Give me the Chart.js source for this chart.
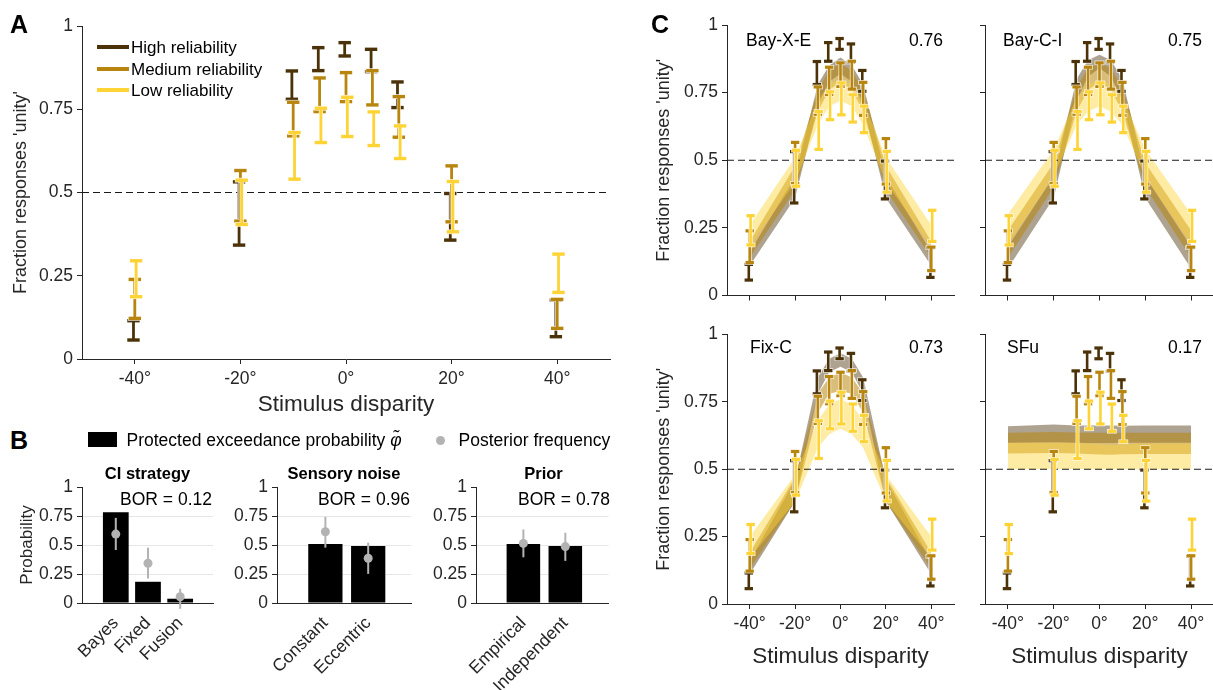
<!DOCTYPE html>
<html>
<head>
<meta charset="utf-8">
<script src="https://cdn.jsdelivr.net/npm/chart.js@4.4.1/dist/chart.umd.min.js"></script>
<style>
  html, body { margin: 0; padding: 0; background: #fff; overflow: hidden; }
  body { width: 1213px; height: 690px; position: relative; font-family: "Liberation Sans", Arial, sans-serif; color: #000; }
  canvas { position: absolute; }
  .t { position: absolute; line-height: 1; white-space: nowrap; }
  .sw { position: absolute; }
</style>
</head>
<body>
<script>
// ---- data ----
const disparities = [-40, -20, -10, -5, 0, 5, 10, 20, 40];
const xTickValues = [-40, -20, 0, 20, 40];
const yTickValues = [0, 0.25, 0.5, 0.75, 1];
const chanceLevel = 0.5;
const reliabilityLabels = ['High reliability', 'Medium reliability', 'Low reliability'];

// observed fraction 'unity' responses (error bar ends)
const highLo = [0.057, 0.342, 0.780, 0.866, 0.910, 0.863, 0.755, 0.357, 0.067];
const highHi = [0.115, 0.532, 0.865, 0.935, 0.950, 0.930, 0.832, 0.497, 0.177];
const medLo  = [0.122, 0.414, 0.670, 0.743, 0.773, 0.763, 0.666, 0.412, 0.092];
const medHi  = [0.239, 0.566, 0.771, 0.844, 0.860, 0.866, 0.788, 0.580, 0.179];
const lowLo  = [0.187, 0.404, 0.540, 0.650, 0.668, 0.641, 0.602, 0.382, 0.200];
const lowHi  = [0.295, 0.537, 0.680, 0.753, 0.786, 0.742, 0.700, 0.533, 0.315];

// model predictions (panel C), shaded bands
const bxeHighLo = [0.11, 0.36, 0.70, 0.79, 0.82, 0.79, 0.70, 0.36, 0.11];
const bxeHighHi = [0.16, 0.44, 0.78, 0.85, 0.88, 0.85, 0.78, 0.44, 0.16];
const bxeMedLo  = [0.14, 0.39, 0.68, 0.76, 0.79, 0.76, 0.68, 0.39, 0.14];
const bxeMedHi  = [0.20, 0.48, 0.76, 0.83, 0.86, 0.83, 0.76, 0.48, 0.20];
const bxeLowLo  = [0.18, 0.42, 0.63, 0.70, 0.72, 0.70, 0.63, 0.42, 0.18];
const bxeLowHi  = [0.26, 0.51, 0.72, 0.78, 0.80, 0.78, 0.72, 0.51, 0.26];

const bciHighLo = [0.10, 0.36, 0.72, 0.81, 0.84, 0.81, 0.72, 0.36, 0.10];
const bciHighHi = [0.18, 0.44, 0.80, 0.87, 0.89, 0.87, 0.80, 0.44, 0.18];
const bciMedLo  = [0.14, 0.40, 0.68, 0.76, 0.79, 0.76, 0.68, 0.40, 0.14];
const bciMedHi  = [0.24, 0.49, 0.77, 0.84, 0.86, 0.84, 0.77, 0.49, 0.24];
const bciLowLo  = [0.19, 0.44, 0.63, 0.68, 0.70, 0.68, 0.63, 0.44, 0.19];
const bciLowHi  = [0.30, 0.54, 0.73, 0.78, 0.80, 0.78, 0.73, 0.54, 0.30];

const fixHighLo = [0.11, 0.38, 0.78, 0.86, 0.88, 0.86, 0.78, 0.38, 0.11];
const fixHighHi = [0.16, 0.46, 0.84, 0.91, 0.93, 0.91, 0.84, 0.46, 0.16];
const fixMedLo  = [0.13, 0.38, 0.71, 0.78, 0.79, 0.78, 0.71, 0.38, 0.13];
const fixMedHi  = [0.19, 0.47, 0.78, 0.84, 0.86, 0.84, 0.78, 0.47, 0.19];
const fixLowLo  = [0.17, 0.38, 0.58, 0.63, 0.65, 0.63, 0.58, 0.38, 0.17];
const fixLowHi  = [0.25, 0.48, 0.68, 0.74, 0.76, 0.74, 0.68, 0.48, 0.25];

const sfuHighLo = [0.598, 0.600, 0.598, 0.597, 0.597, 0.597, 0.598, 0.598, 0.598];
const sfuHighHi = [0.660, 0.666, 0.662, 0.662, 0.662, 0.662, 0.661, 0.662, 0.662];
const sfuMedLo  = [0.558, 0.560, 0.558, 0.557, 0.555, 0.554, 0.556, 0.557, 0.557];
const sfuMedHi  = [0.635, 0.638, 0.636, 0.635, 0.635, 0.635, 0.635, 0.635, 0.635];
const sfuLowLo  = [0.500, 0.501, 0.501, 0.500, 0.500, 0.500, 0.500, 0.500, 0.500];
const sfuLowHi  = [0.597, 0.598, 0.597, 0.596, 0.593, 0.590, 0.592, 0.595, 0.596];

const modelNames  = ['Bay-X-E', 'Bay-C-I', 'Fix-C', 'SFu'];
const modelScores = ['0.76', '0.75', '0.73', '0.17'];

// panel B: protected exceedance probability (bars) and posterior frequency (dots)
const ciLabels = ['Bayes', 'Fixed', 'Fusion'];
const ciPxp = [0.783, 0.183, 0.037];
const ciFreq = [0.594, 0.343, 0.054];
const ciFreqLo = [0.457, 0.211, -0.05];
const ciFreqHi = [0.734, 0.477, 0.123];
const ciBor = 0.12;

const noiseLabels = ['Constant', 'Eccentric'];
const noisePxp = [0.509, 0.491];
const noiseFreq = [0.614, 0.386];
const noiseFreqLo = [0.477, 0.251];
const noiseFreqHi = [0.743, 0.520];
const noiseBor = 0.96;

const priorLabels = ['Empirical', 'Independent'];
const priorPxp = [0.509, 0.491];
const priorFreq = [0.514, 0.486];
const priorFreqLo = [0.394, 0.363];
const priorFreqHi = [0.634, 0.606];
const priorBor = 0.78;

// ---- styles ----
const relColors = ['#4b3208', '#b8860f', '#fdd335'];
const bandColors = ['rgba(75,50,8,0.45)', 'rgba(184,134,15,0.55)', 'rgba(253,211,53,0.45)'];
const freqColor = '#b3b3b3';
const axisColor = '#262626';

Chart.defaults.font.family = '"Liberation Sans", Arial, sans-serif';
Chart.defaults.font.size = 17.5;
Chart.defaults.color = '#262626';

// ---- helpers ----
function place(box, pad) {
  const c = document.createElement('canvas');
  const w = box.r - box.l + pad.l + pad.r, h = box.b - box.t + pad.t + pad.b;
  c.width = w; c.height = h;
  c.style.left = (box.l - pad.l) + 'px';
  c.style.top = (box.t - pad.t) + 'px';
  c.style.width = w + 'px';
  c.style.height = h + 'px';
  document.body.appendChild(c);
  return c;
}

function label(html, x, y, size, opt) {
  opt = opt || {};
  const d = document.createElement('div');
  d.className = 't';
  d.innerHTML = html;
  d.style.left = x + 'px';
  d.style.top = y + 'px';
  d.style.fontSize = size + 'px';
  if (opt.bold) d.style.fontWeight = 'bold';
  const tx = opt.align === 'right' ? '-100%' : opt.align === 'center' ? '-50%' : '0';
  d.style.transform = 'translate(' + tx + ', -50%)';
  document.body.appendChild(d);
}

function swatch(x, y, w, h, color, round) {
  const d = document.createElement('div');
  d.className = 'sw';
  d.style.left = x + 'px'; d.style.top = y + 'px';
  d.style.width = w + 'px'; d.style.height = h + 'px';
  d.style.background = color;
  if (round) d.style.borderRadius = '50%';
  document.body.appendChild(d);
}

const pts = (xs, ys) => xs.map((x, i) => ({x: x, y: ys[i]}));

function errorBars(sets) {
  return {
    id: 'errorBars',
    afterDatasetsDraw(chart) {
      const {ctx, scales: {x, y}} = chart;
      ctx.save();
      ctx.lineCap = 'butt';
      sets.forEach(s => {
        const passes = s.halo ? [['rgba(255,255,255,0.85)', 1.4], [s.color, 0]] : [[s.color, 0]];
        passes.forEach(([col, extra]) => {
          ctx.strokeStyle = col;
          s.xs.forEach((xv, i) => {
            const px = x.getPixelForValue(xv + s.shift);
            const pLo = y.getPixelForValue(s.lo[i]);
            const pHi = y.getPixelForValue(s.hi[i]);
            ctx.lineWidth = s.stem + extra;
            ctx.beginPath(); ctx.moveTo(px, pLo); ctx.lineTo(px, pHi); ctx.stroke();
            if (s.cap) {
              ctx.lineWidth = s.thick + extra;
              [pLo, pHi].forEach(py => {
                ctx.beginPath();
                ctx.moveTo(px - s.cap - extra / 2, py);
                ctx.lineTo(px + s.cap + extra / 2, py);
                ctx.stroke();
              });
            }
          });
        });
      });
      ctx.restore();
    }
  };
}

function observedSets(shift, cap, stem, thick) {
  return [[highLo, highHi], [medLo, medHi], [lowLo, lowHi]].map((b, k) => ({
    xs: disparities, lo: b[0], hi: b[1], color: relColors[k],
    shift: (k - 1) * shift, cap: cap, stem: stem, thick: thick, halo: true
  }));
}

function refLine() {
  return {
    data: [{x: -50, y: chanceLevel}, {x: 50, y: chanceLevel}],
    borderColor: '#1a1a1a', borderWidth: 1, borderDash: [7, 4],
    pointRadius: 0, fill: false, order: 0
  };
}

function xScale(h, showLabels, title, titlePad) {
  return {
    type: 'linear', min: -50, max: 50,
    afterBuildTicks: s => { s.ticks = xTickValues.map(v => ({value: v})); },
    afterFit: s => { s.height = h; },
    grid: {drawOnChartArea: false, tickLength: 5, color: axisColor},
    border: {color: axisColor, width: 1},
    ticks: {maxRotation: 0, autoSkip: false, padding: 5, callback: v => showLabels ? v + '°' : ''},
    title: {display: !!title, text: title || '', font: {size: 22.5}, color: '#262626', padding: {top: 0, bottom: titlePad || 0}}
  };
}

function yScale(w, showLabels, title, titlePad, lightGrid) {
  return {
    type: 'linear', min: 0, max: 1,
    afterBuildTicks: s => { s.ticks = yTickValues.map(v => ({value: v})); },
    afterFit: s => { s.width = w; },
    grid: lightGrid
      ? {color: c => (c.tick && c.tick.value > 0 && c.tick.value < 1) ? '#e6e6e6' : 'rgba(0,0,0,0)', tickColor: axisColor, tickLength: 5}
      : {drawOnChartArea: false, tickLength: 5, color: axisColor},
    border: {color: axisColor, width: 1},
    ticks: {autoSkip: false, padding: 4, callback: v => showLabels ? String(v) : ''},
    title: {display: !!title, text: title || '', font: {size: lightGrid ? 17 : 18}, color: '#262626', padding: {top: titlePad || 0, bottom: 0}}
  };
}

function baseOptions(pad, scales) {
  return {
    responsive: false, animation: false,
    layout: {padding: {top: pad.t, right: pad.r, left: 0, bottom: 0}},
    plugins: {legend: {display: false}, tooltip: {enabled: false}},
    scales: scales
  };
}

// ---- panel A ----
const boxA = {l: 82, t: 26, r: 610, b: 359};
const padA = {l: 82, t: 26, r: 8, b: 61};
new Chart(place(boxA, padA), {
  type: 'line',
  data: {datasets: [refLine()]},
  options: baseOptions(padA, {
    x: xScale(padA.b, true, 'Stimulus disparity', 1.5),
    y: yScale(padA.l, true, "Fraction responses 'unity'", 10.7, false)
  }),
  plugins: [errorBars(observedSets(0.25, 6.2, 2.8, 3.4))]
});

label('A', 10, 24, 25, {bold: true});
reliabilityLabels.forEach((name, k) => {
  const cy = [47, 68.5, 90][k];
  swatch(97, cy - 2, 32, 4, relColors[k]);
  label(name, 131, cy, 17);
});

// ---- panel B ----
const panelsB = [
  {labels: ciLabels, pxp: ciPxp, freq: ciFreq, lo: ciFreqLo, hi: ciFreqHi, bor: ciBor, title: 'CI strategy',
   box: {l: 82, t: 487, r: 213, b: 603}, pad: {l: 82, t: 17, r: 6, b: 87}, min: -0.05, max: 4.02},
  {labels: noiseLabels, pxp: noisePxp, freq: noiseFreq, lo: noiseFreqLo, hi: noiseFreqHi, bor: noiseBor, title: 'Sensory noise',
   box: {l: 277, t: 487, r: 411, b: 603}, pad: {l: 50, t: 17, r: 6, b: 87}, min: -0.13, max: 3.0},
  {labels: priorLabels, pxp: priorPxp, freq: priorFreq, lo: priorFreqLo, hi: priorFreqHi, bor: priorBor, title: 'Prior',
   box: {l: 476, t: 487, r: 611, b: 603}, pad: {l: 50, t: 17, r: 2, b: 87}, min: -0.13, max: 3.03}
];

panelsB.forEach((p, j) => {
  const xs = p.labels.map((_, i) => i + 1);
  new Chart(place(p.box, p.pad), {
    type: 'bar',
    data: {
      datasets: [
        {type: 'scatter', data: pts(xs, p.freq), pointRadius: 4.5, pointHoverRadius: 4.5,
         backgroundColor: freqColor, borderWidth: 0, order: 0},
        {type: 'bar', data: pts(xs, p.pxp), backgroundColor: '#000', borderWidth: 0,
         categoryPercentage: 1, barPercentage: 0.8, order: 1}
      ]
    },
    options: baseOptions(p.pad, {
      x: {
        type: 'linear', min: p.min, max: p.max, offset: false,
        afterBuildTicks: s => { s.ticks = xs.map(v => ({value: v})); },
        afterFit: s => { s.height = p.pad.b; },
        grid: {display: false, offset: false},
        border: {color: axisColor, width: 1},
        ticks: {autoSkip: false, minRotation: 45, maxRotation: 45, padding: 2, callback: v => p.labels[v - 1]}
      },
      y: yScale(p.pad.l, true, j === 0 ? 'Probability' : '', 17.5, true)
    }),
    plugins: [errorBars([{xs: xs, lo: p.lo, hi: p.hi, color: freqColor, shift: 0, cap: 0, stem: 2, thick: 0}])]
  });
  label(p.title, (p.box.l + p.box.r) / 2, 473, 16.5, {bold: true, align: 'center'});
  label('BOR = ' + p.bor.toFixed(2), p.box.r - 1, 500, 17.5, {align: 'right'});
});

label('B', 10, 440, 25, {bold: true});
swatch(88, 432, 29, 15, '#000');
label('Protected exceedance probability <i>φ̃</i>', 126.5, 440.5, 17.5);
swatch(436.2, 436.2, 9, 9, freqColor, true);
label('Posterior frequency', 458.5, 440.5, 17.5);

// ---- panel C ----
const panelsC = [
  {bands: [[bxeHighLo, bxeHighHi], [bxeMedLo, bxeMedHi], [bxeLowLo, bxeLowHi]],
   box: {l: 727, t: 25, r: 954, b: 297}, pad: {l: 87, t: 25, r: 8, b: 13}, xLab: false, yLab: true,
   nameX: 746, scoreX: 943, textY: 41},
  {bands: [[bciHighLo, bciHighHi], [bciMedLo, bciMedHi], [bciLowLo, bciLowHi]],
   box: {l: 985, t: 25, r: 1214, b: 297}, pad: {l: 20, t: 25, r: 0, b: 13}, xLab: false, yLab: false,
   nameX: 1003, scoreX: 1202, textY: 41},
  {bands: [[fixHighLo, fixHighHi], [fixMedLo, fixMedHi], [fixLowLo, fixLowHi]],
   box: {l: 727, t: 332, r: 954, b: 604}, pad: {l: 87, t: 12, r: 8, b: 86}, xLab: true, yLab: true,
   nameX: 750, scoreX: 943, textY: 348},
  {bands: [[sfuHighLo, sfuHighHi], [sfuMedLo, sfuMedHi], [sfuLowLo, sfuLowHi]],
   box: {l: 985, t: 332, r: 1214, b: 604}, pad: {l: 20, t: 12, r: 0, b: 86}, xLab: true, yLab: false,
   nameX: 1007, scoreX: 1202, textY: 348}
];

panelsC.forEach((p, m) => {
  const datasets = [];
  p.bands.forEach((b, k) => {
    const idx = datasets.length;
    datasets.push({data: pts(disparities, b[0]), borderWidth: 0, borderColor: 'rgba(0,0,0,0)',
                   pointRadius: 0, fill: false, order: 4 - k});
    datasets.push({data: pts(disparities, b[1]), borderWidth: 0, borderColor: 'rgba(0,0,0,0)',
                   pointRadius: 0, fill: idx, backgroundColor: bandColors[k], order: 4 - k});
  });
  datasets.push(refLine());
  new Chart(place(p.box, p.pad), {
    type: 'line',
    data: {datasets: datasets},
    options: baseOptions(p.pad, {
      x: xScale(p.pad.b, p.xLab, p.xLab ? 'Stimulus disparity' : '', 19.8),
      y: yScale(p.pad.l, p.yLab, p.yLab ? "Fraction responses 'unity'" : '', 13, false)
    }),
    plugins: [errorBars(observedSets(0.4, 4.2, 2.6, 3.2))]
  });
  label(modelNames[m], p.nameX, p.textY, 17.5);
  label(modelScores[m], p.scoreX, p.textY, 17.5, {align: 'right'});
});

label('C', 651, 24, 25, {bold: true});
</script>
</body>
</html>
